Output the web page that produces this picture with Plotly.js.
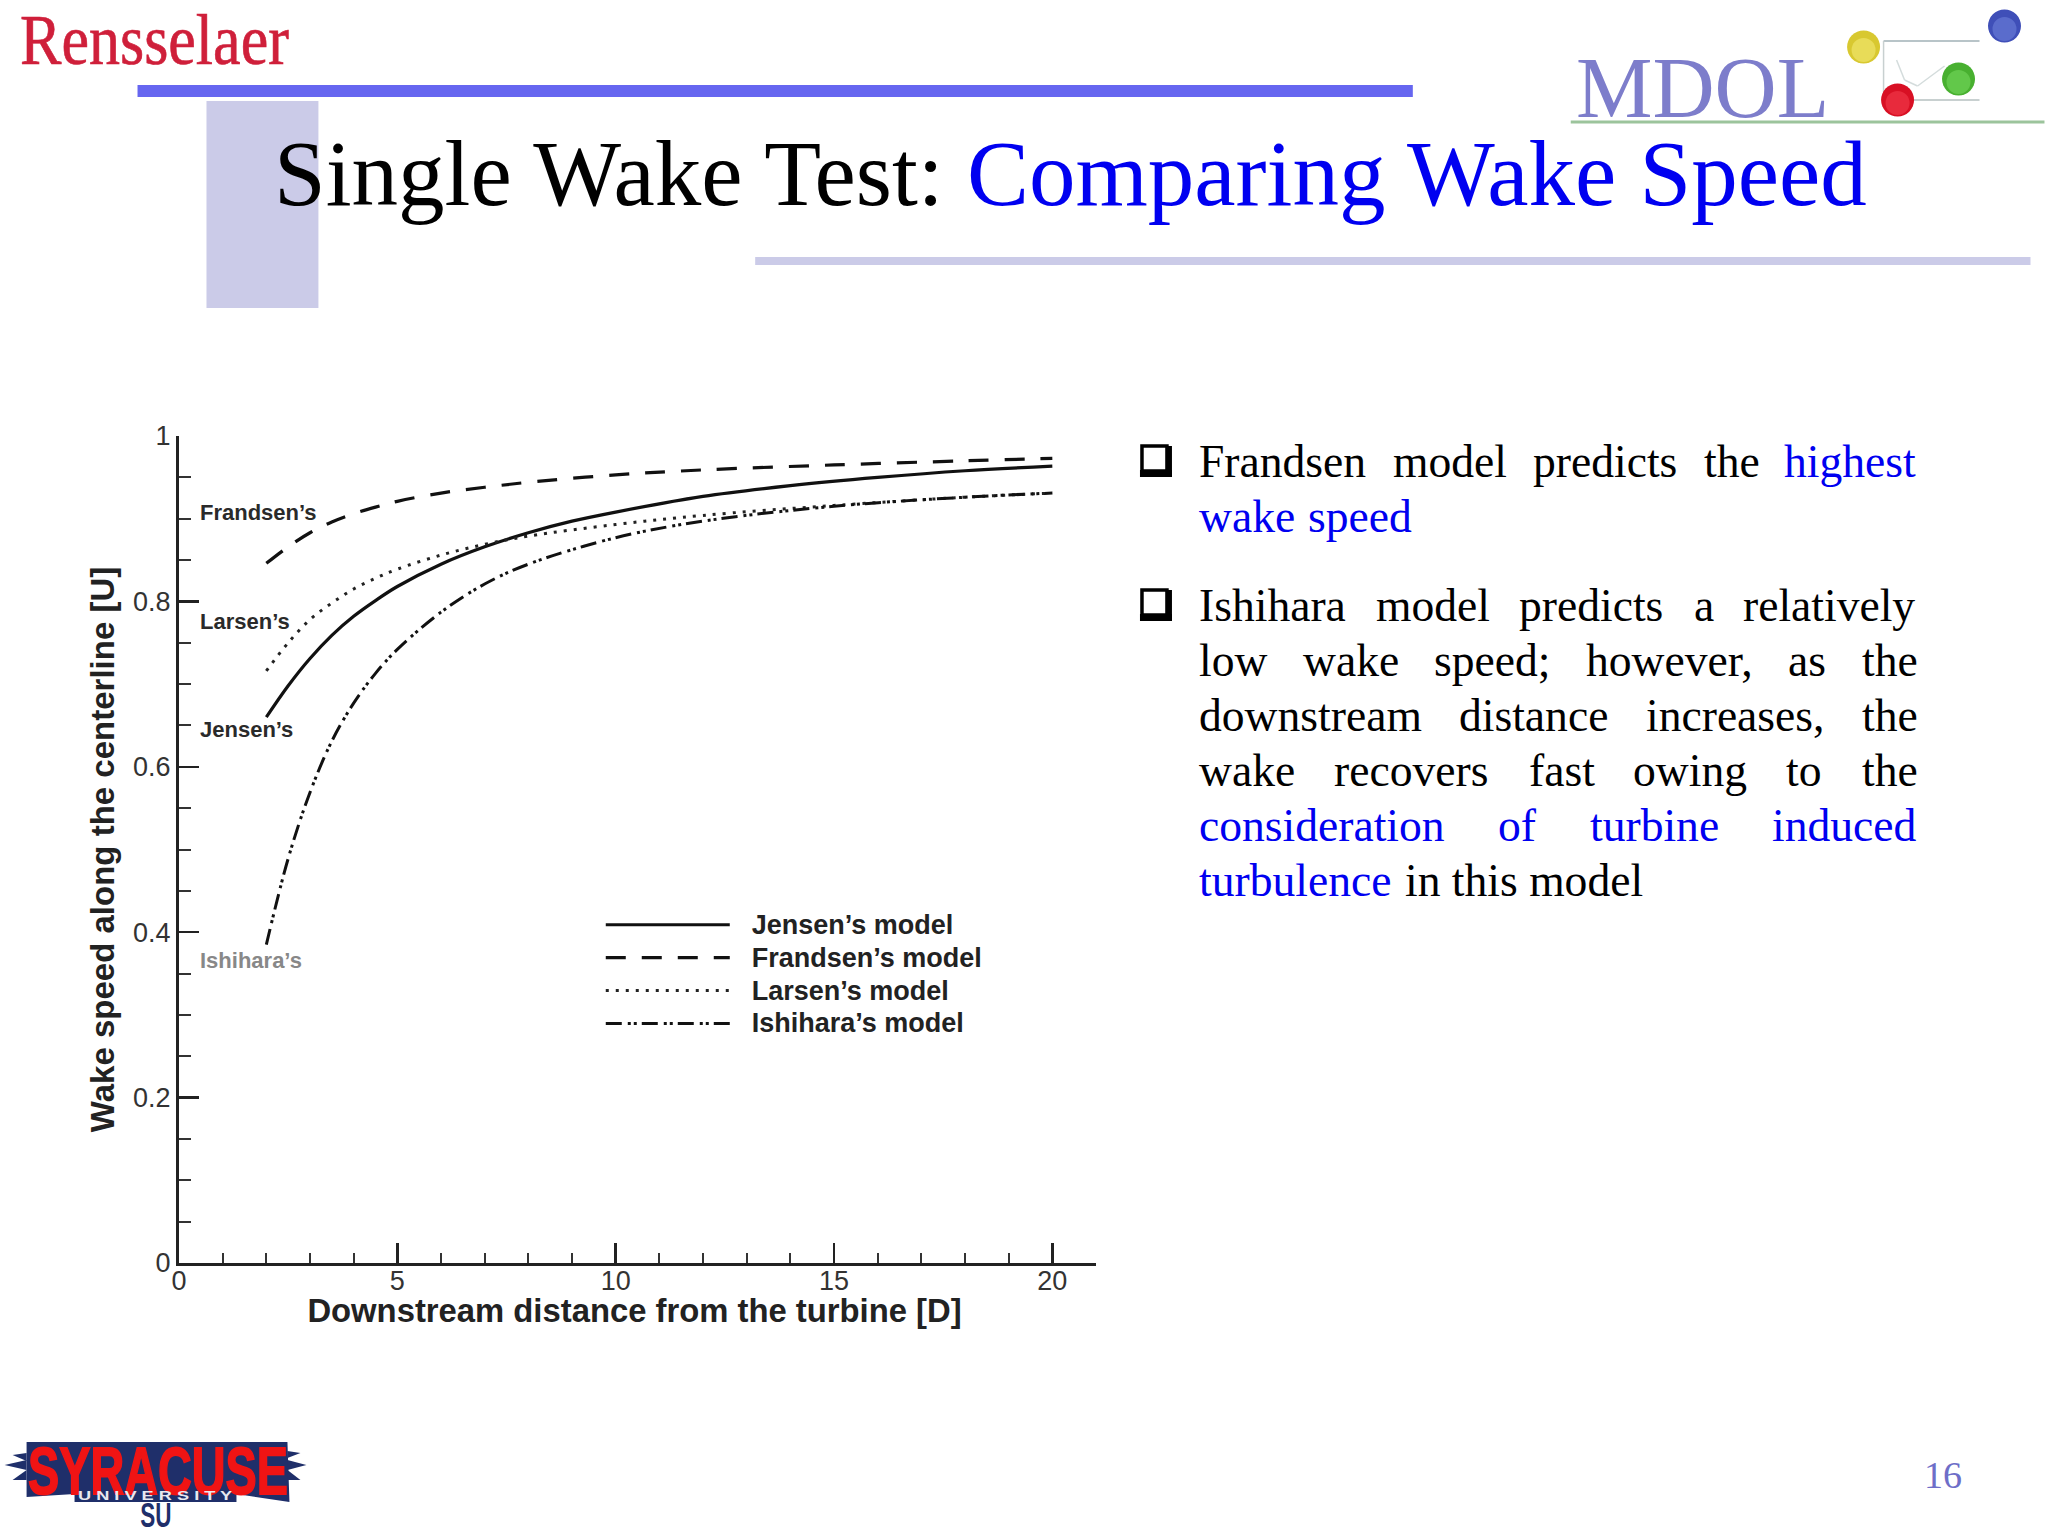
<!DOCTYPE html>
<html><head><meta charset="utf-8">
<script src="https://cdn.plot.ly/plotly-3.0.1.min.js"></script>
<style>html,body{margin:0;padding:0;background:#fff}#chart{width:2048px;height:1536px}</style></head>
<body><div id="chart"></div>
<script>
// ---- chart data ----
const jensenX = [2,2.5,3,3.5,4,4.5,5,6,7,8,9,10,12,14,16,18,20];
const jensenY = [.660,.698,.731,.759,.782,.801,.818,.845,.866,.883,.897,.908,.927,.940,.950,.958,.9635];
const frandsenX = [2,2.5,3,3.5,4,4.5,5,6,7,8,10,12,15,18,20];
const frandsenY = [.846,.866,.883,.896,.906,.914,.921,.931,.938,.944,.953,.959,.965,.970,.973];
const larsenX = [2,2.5,3,3.5,4,4.5,5,6,7,8,10,12,15,18,20];
const larsenY = [.716,.750,.778,.798,.815,.828,.839,.856,.869,.879,.893,.904,.916,.926,.931];
const ishiharaX = [2,2.5,3,3.5,4,4.5,5,6,7,8,10,12,15,18,20];
const ishiharaY = [.385,.489,.569,.631,.677,.713,.742,.787,.821,.845,.877,.897,.915,.926,.931];
const xTicks = [0,5,10,15,20];
const xMinor = [1,2,3,4,6,7,8,9,11,12,13,14,16,17,18,19];
const yTicks = [0,.2,.4,.6,.8,1];
const yTickText = ['0','0.2','0.4','0.6','0.8','1'];
const yMinor = [.05,.1,.15,.25,.3,.35,.45,.5,.55,.65,.7,.75,.85,.9,.95];
const seriesNames = ["Jensen’s model","Frandsen’s model","Larsen’s model","Ishihara’s model"];
const curveLabels = ["Frandsen’s","Larsen’s","Jensen’s","Ishihara’s"];
const curveLabelY = [.908,.776,.645,.366];

// ---- page geometry helpers ----
const L=178.5,R=1096,T=436,B=1263;
const X=p=>(p-L)/(R-L), Y=p=>(B-p)/(B-T);
const BLUE='#0000f0', SERIF='Liberation Serif', SANS='Liberation Sans';
const shapes=[], ann=[];
function rect(x0,y0,x1,y1,fill,line,lw){shapes.push({type:'rect',xref:'paper',yref:'paper',layer:'below',x0:X(x0),x1:X(x1),y0:Y(y0),y1:Y(y1),fillcolor:fill,line:{color:line||fill,width:lw||0}});}
function circ(cx,cy,r,fill){shapes.push({type:'circle',xref:'paper',yref:'paper',layer:'below',x0:X(cx-r),x1:X(cx+r),y0:Y(cy-r),y1:Y(cy+r),fillcolor:fill,line:{width:0}});}
function poly(pts,fill){shapes.push({type:'path',xref:'paper',yref:'paper',layer:'below',path:'M'+pts.map(p=>X(p[0])+','+Y(p[1])).join('L')+'Z',fillcolor:fill,line:{width:0}});}
function seg(x0,y0,x1,y1,c,w){shapes.push({type:'line',xref:'paper',yref:'paper',layer:'below',x0:X(x0),x1:X(x1),y0:Y(y0),y1:Y(y1),line:{color:c,width:w}});}
function txt(x,base,t,size,color,font,anchor){
  ann.push({xref:'paper',yref:'paper',x:X(x),y:Y(base-size*0.31),xanchor:anchor||'left',yanchor:'middle',showarrow:false,text:t,borderpad:0,borderwidth:0,font:{family:font||SERIF,size:size,color:color}});
}

// ---- slide furniture ----
rect(206,101,318,308,'#cbcbe8');
rect(755,257,2031,265,'#cbcbe8');
rect(137,85,1413,97,'#6666f0');
txt(19,59,'Rensselaer',64,'#cf1f3a');
txt(1576,115,'MDOL',86,'#7d7dcb');
seg(1571,122,2045,122,'#9cc49c',3);
seg(1884,41,1980,41,'#b8c4c8',2); seg(1884,41,1884,92,'#c8d0d0',1.5); seg(1900,100,1980,100,'#c8d0d0',2);
seg(1897,60,1905,80,'#d4dcdc',1.5); seg(1905,80,1918,86,'#d4dcdc',1.5); seg(1918,86,1945,66,'#d4dcdc',1.5);
const balls=[[2005,26,'#3f4fb8','#5a6ccc'],[1864,47,'#d8c830','#e8dc58'],[1959,79,'#48b030','#62c84a'],[1898,100,'#d81024','#e82a3c']];
balls.forEach(b=>{circ(b[0],b[1],16.5,b[2]);circ(b[0],b[1]+3,12,b[3]);});
txt(274,202,'Single Wake Test: <span style="color:'+BLUE+'">Comparing Wake Speed</span>',93,'#000');
txt(1924,1487,'16',38,'#6e6ec8');

// bullets
function bullet(y){rect(1142,y,1167,y+25,'#fff','#000',3.5);rect(1140,y+24,1172,y+31,'#000');rect(1166,y,1172,y+31,'#000');}
bullet(446); bullet(590);

// justified body text, word by word
const bk='#000',TS=45.6,DX=4;
const wordsL1=[[1195,'Frandsen',bk],[1389,'model',bk],[1529,'predicts',bk],[1700,'the',bk],[1780,'highest',BLUE]];
const wordsL2=[[1195,'wake',BLUE],[1304,'speed',BLUE]];
const wordsL3=[[1195,'Ishihara',bk],[1372,'model',bk],[1515,'predicts',bk],[1690,'a',bk],[1739,'relatively',bk]];
const wordsL4=[[1195,'low',bk],[1299,'wake',bk],[1430,'speed;',bk],[1582,'however,',bk],[1784,'as',bk],[1858,'the',bk]];
const wordsL5=[[1195,'downstream',bk],[1455,'distance',bk],[1642,'increases,',bk],[1858,'the',bk]];
const wordsL6=[[1195,'wake',bk],[1330,'recovers',bk],[1525,'fast',bk],[1629,'owing',bk],[1782,'to',bk],[1858,'the',bk]];
const wordsL7=[[1195,'consideration',BLUE],[1494,'of',BLUE],[1586,'turbine',BLUE],[1768,'induced',BLUE]];
const wordsL8=[[1195,'turbulence',BLUE],[1401,'in this model',bk]];
[[476,wordsL1],[530.5,wordsL2],[620,wordsL3],[675,wordsL4],[730,wordsL5],[785,wordsL6],[840,wordsL7],[894.5,wordsL8]]
 .forEach(l=>l[1].forEach(w=>txt(w[0]+DX,l[0],w[1],TS,w[2])));

// Syracuse logo
const NAVY='#1f2f6a';
poly([[26,1442],[287,1442],[289,1502],[236,1494],[236,1502],[74,1502],[74,1494],[26,1497]],NAVY);
poly([[4,1465],[26,1460],[26,1470]],NAVY);poly([[12,1455],[26,1453],[26,1461]],NAVY);poly([[12,1480],[26,1470],[26,1480]],NAVY);
poly([[306,1465],[287,1460],[287,1470]],NAVY);poly([[300,1453],[287,1451],[287,1458]],NAVY);poly([[300,1480],[287,1470],[287,1480]],NAVY);
txt(157,1484,'<b>SYRACUSE</b>',45,'#f01414',SANS,'center');
txt(155,1500,'<b>U N I V E R S I T Y</b>',13,'#e8e8f0',SANS,'center');
txt(155,1524,'<b>SU</b>',30,NAVY,SANS,'center');

// curve labels (data coordinates)
curveLabels.forEach((t,i)=>ann.push({xref:'x',yref:'y',x:.45,y:curveLabelY[i],xanchor:'left',yanchor:'middle',showarrow:false,borderpad:0,text:t,
  font:{family:SANS,size:22,color:i===3?'#888':'#2a2a2a',weight:700}}));

// ---- traces ----
const styles=[{color:'#111',width:3.2},{color:'#111',width:3.2,dash:'20px,16px'},{color:'#222',width:3,dash:'3px,7px'},{color:'#111',width:3,dash:'16px,6px,3px,3px,3px,5px'}];
const xs=[jensenX,frandsenX,larsenX,ishiharaX], ys=[jensenY,frandsenY,larsenY,ishiharaY];
const traces=seriesNames.map((n,i)=>({type:'scatter',mode:'lines',name:n,x:xs[i],y:ys[i],line:Object.assign({shape:'spline',smoothing:1},styles[i])}));

const axisCommon={showgrid:false,zeroline:false,showline:true,linecolor:'#222',linewidth:3,ticks:'inside',tickcolor:'#222',tickwidth:2.5,mirror:false,
  tickfont:{family:SANS,size:27,color:'#333'},tickmode:'array'};
const layout={width:2048,height:1536,paper_bgcolor:'#fff',plot_bgcolor:'rgba(0,0,0,0)',
  margin:{l:L,r:2048-R,t:T,b:1536-B,pad:0},
  xaxis:Object.assign({},axisCommon,{range:[0,21],tickvals:xTicks,ticktext:xTicks.map(String),ticklen:20,ticklabelstandoff:-8,
    minor:{tickmode:'array',tickvals:xMinor,ticks:'inside',ticklen:10,tickwidth:2,tickcolor:'#333'},
    title:{text:'Downstream distance from the turbine [D]',standoff:0,font:{family:SANS,size:32.8,color:'#222',weight:700}}}),
  yaxis:Object.assign({},axisCommon,{range:[0,1],tickvals:yTicks,ticktext:yTickText,ticklen:20,
    minor:{tickmode:'array',tickvals:yMinor,ticks:'inside',ticklen:12,tickwidth:2,tickcolor:'#333'},
    title:{text:'Wake speed along the centerline [U]',standoff:9,font:{family:SANS,size:33,color:'#222',weight:700}}}),
  showlegend:true,
  legend:{x:X(600.5),y:Y(903.3),xanchor:'left',yanchor:'top',bgcolor:'rgba(0,0,0,0)',itemwidth:124,borderwidth:0,
    font:{family:SANS,size:23,color:'#222',weight:700}},
  shapes:shapes,annotations:ann};
Plotly.newPlot('chart',traces,layout,{displayModeBar:false,staticPlot:true}).then(()=>{
  // legend rows keep the tight spacing of the reference while the text stays larger
  document.querySelectorAll('.legendtext').forEach(t=>{
    t.style.fontSize='27px';
    t.setAttribute('x',parseFloat(t.getAttribute('x'))+17);
  });
  document.querySelectorAll('.legend .scrollbox').forEach(s=>s.removeAttribute('clip-path'));
  document.querySelectorAll('.legend *[clip-path]').forEach(s=>s.removeAttribute('clip-path'));
  // nudge the x title up to the reference position
  const xt=document.querySelector('.xtitle');
  if(xt){xt.setAttribute('y',parseFloat(xt.getAttribute('y'))-4);xt.setAttribute('x',parseFloat(xt.getAttribute('x'))-3);}
  // condensed / tall wordmarks
  function stretch(word,sx,sy,heavy){
    document.querySelectorAll('.annotation-text').forEach(t=>{
      if(t.textContent!==word) return;
      const b=t.getBBox(),cx=b.x+(word==='Rensselaer'?0:b.width/2),cy=b.y+b.height/2;
      t.setAttribute('transform',`translate(${cx},${cy}) scale(${sx},${sy}) translate(${-cx},${-cy})`);
      if(heavy){t.style.stroke=t.style.fill;t.style.strokeWidth=heavy+'px';}
    });
  }
  stretch('Rensselaer',.97,1.12,.6);
  stretch('SYRACUSE',1.04,1.5,1.2);
  stretch('U N I V E R S I T Y',1.4,1);
  stretch('SU',.75,1.15);
});
</script></body></html>
